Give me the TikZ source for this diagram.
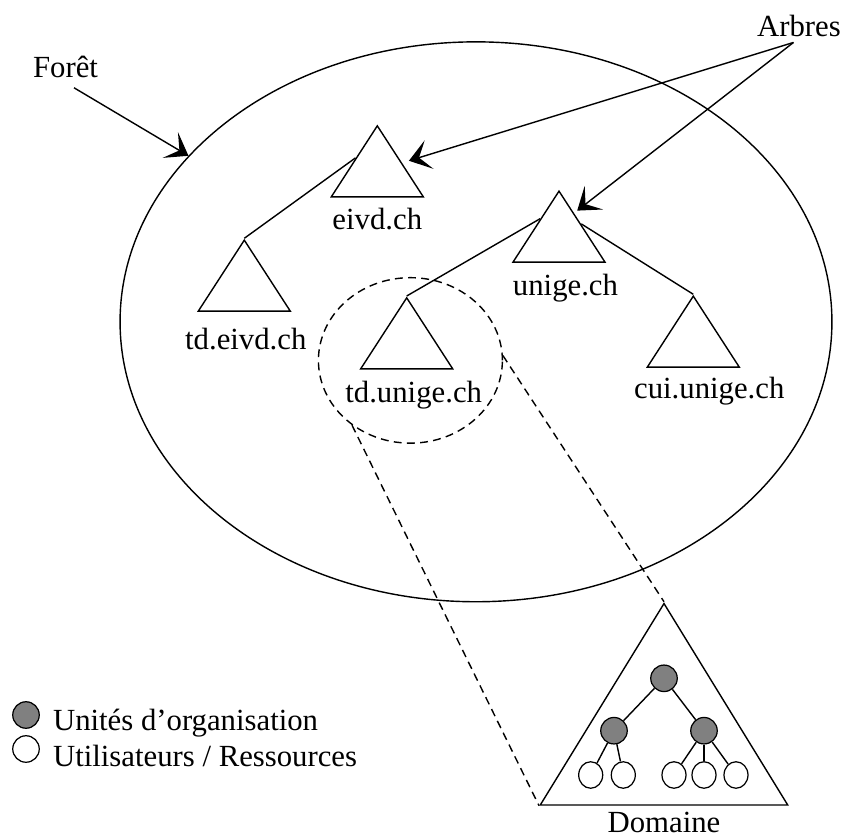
\documentclass[tikz,border=0pt]{standalone}
\usepackage{fontspec}
\setmainfont{Liberation Serif}
\usetikzlibrary{shapes.geometric, arrows.meta, positioning, calc}

\begin{document}
\begin{tikzpicture}[
    x=0.02cm, y=-0.02cm,
    line width=0.8pt,
    lbl/.style={inner sep=0, font=\fontsize{17.5}{21}\selectfont, text height=12pt, text depth=4pt},
    tri/.style={isosceles triangle, isosceles triangle stretches, shape border rotate=90, draw, inner sep=0, minimum width=1.84cm, minimum height=1.42cm, anchor=apex},
    unite/.style={circle, draw, fill=gray, line width=0.7pt, minimum size=0.53cm, inner sep=0},
    objet/.style={ellipse, draw, fill=white, line width=0.7pt, minimum width=0.48cm, minimum height=0.53cm, inner sep=0},
    arrow/.style={-{Stealth[length=12pt, width=17pt, inset=6pt]}},
    pointille/.style={dash pattern=on 4.5pt off 3pt}
]
    \useasboundingbox (0,0) rectangle (846,839);

    \node (foret) [ellipse, draw, minimum width=14.24cm, minimum height=11.2cm] at (476,321.8) {};
    \node (zoom) [ellipse, draw, pointille, minimum width=3.68cm, minimum height=3.31cm] at (410.4,360.4) {};

    \node (eivd)    [tri] at (377.3,124) {};
    \node (tdeivd)  [tri] at (244.3,238.3) {};
    \node (unige)   [tri] at (559,189.3) {};
    \node (tdunige) [tri] at (406.7,296) {};
    \node (cui)     [tri] at (693.3,294.3) {};

    \node [lbl, below=0.2cm of eivd] {eivd.ch};
    \node [lbl, below=0.31cm of tdeivd, xshift=0.03cm] {td.eivd.ch};
    \node [lbl, below=0.22cm of unige, xshift=0.13cm] {unige.ch};
    \node [lbl, below=0.23cm of tdunige, xshift=0.14cm] {td.unige.ch};
    \node [lbl, below=0.18cm of cui, xshift=0.32cm] {cui.unige.ch};

    \draw (tdeivd.apex) -- ($(eivd.apex)!.46!(eivd.left corner)$);
    \draw (tdunige.apex) -- ($(unige.apex)!.4!(unige.left corner)$);
    \draw (cui.apex) -- ($(unige.apex)!.47!(unige.right corner)$);

    \node (lforet) [lbl] at (65.5,70) {Forêt};
    \node (arbres) [lbl] at (799,29.7) {Arbres};
    \coordinate (depart) at ([xshift=-0.11cm, yshift=0.04cm]arbres.south);

    \draw [arrow] ([xshift=0.17cm, yshift=-0.06cm]lforet.south) -- (foret.150.7);
    \draw [arrow] (depart) -- ([xshift=0.16cm]eivd.right side);
    \draw [arrow] (depart) -- ($(unige.apex)!.29!(unige.right corner)+(4.5,0)$);

    \node (domaine) [tri, minimum width=4.95cm, minimum height=4.03cm] at (664,601.7) {};
    \node [lbl, text depth=0pt, below=0.1cm of domaine] {Domaine};

    \draw [pointille] (zoom.228.5) -- (domaine.left corner);
    \draw [pointille] (zoom.3.3) -- (domaine.apex);

    \node (ou1) [unite] at (664,678.3) {};
    \node (ou2) [unite] at (614,730.7) {};
    \node (ou3) [unite] at (704,730.7) {};
    \foreach \n/\x in {1/590.7, 2/623.3, 3/674, 4/704, 5/736}
        \node (ut\n) [objet] at (\x,775) {};

    \draw (ou1) -- (ou2);
    \draw (ou1) -- (ou3);
    \draw (ou2) -- (ut1);
    \draw (ou2) -- (ut2);
    \draw (ou3) -- (ut3);
    \draw (ou3) -- (ut4);
    \draw (ou3) -- (ut5);

    \node (leg1) [unite] at (26,715) {};
    \node (leg2) [objet, minimum width=0.53cm] at (26,749) {};
    \node [lbl, right=0.25cm of leg1, yshift=-0.16cm] {Unités d’organisation};
    \node [lbl, right=0.25cm of leg2, yshift=-0.2cm] {Utilisateurs / Ressources};
\end{tikzpicture}
\end{document}
